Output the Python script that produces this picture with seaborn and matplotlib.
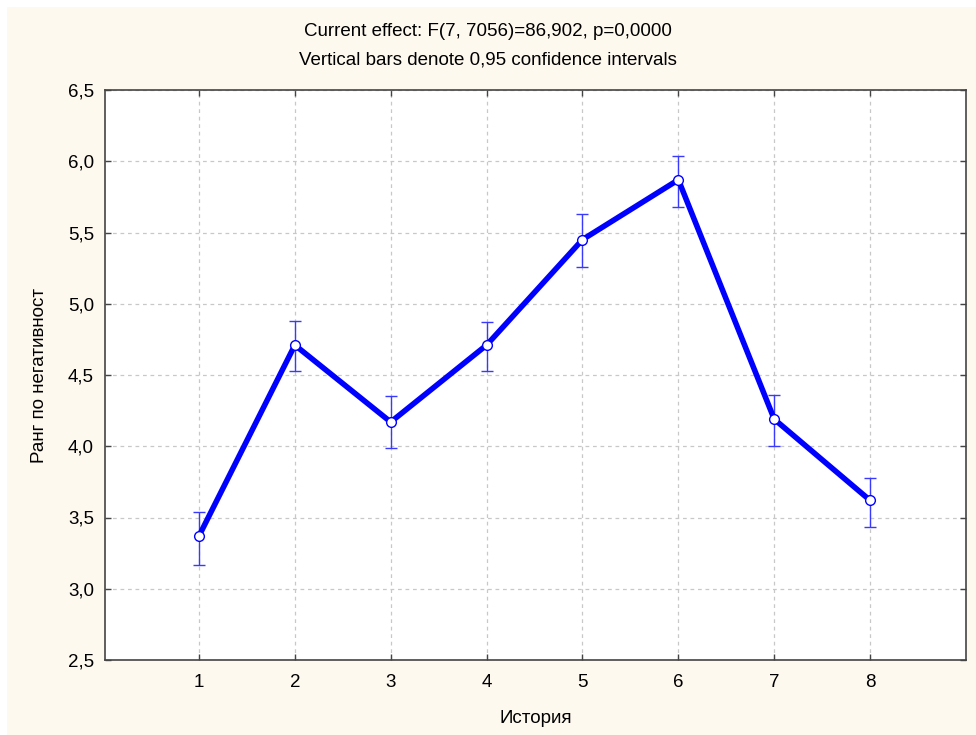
import matplotlib
matplotlib.use("Agg")
import matplotlib.pyplot as plt
from matplotlib.patches import Rectangle
import seaborn as sns
import pandas as pd

stories = [1, 2, 3, 4, 5, 6, 7, 8]
means = [3.37, 4.71, 4.17, 4.71, 5.45, 5.87, 4.19, 3.62]
ci_low = [3.17, 4.53, 3.99, 4.53, 5.26, 5.68, 4.00, 3.43]
ci_high = [3.54, 4.88, 4.35, 4.87, 5.63, 6.04, 4.36, 3.78]
y_ticks = [2.5, 3.0, 3.5, 4.0, 4.5, 5.0, 5.5, 6.0, 6.5]
y_tick_labels = ["2,5", "3,0", "3,5", "4,0", "4,5", "5,0", "5,5", "6,0", "6,5"]

sns.set_theme(style="white")
plt.rcParams["font.family"] = ["Liberation Sans", "DejaVu Sans"]

FS = 13.5
df = pd.DataFrame({"story": stories, "mean": means})

fig = plt.figure(figsize=(9.76, 7.35), dpi=100, facecolor="white")
cream = "#FEF9EF"
fig.patches.append(Rectangle((7 / 976, 0), 1 - 7 / 976, 1 - 7 / 735,
                             transform=fig.transFigure, facecolor=cream,
                             edgecolor="none", zorder=-10))
ax = fig.add_axes([105 / 976, 75 / 735, 861 / 976, 570 / 735])
ax.set_facecolor("white")

yerr = [[m - lo for m, lo in zip(means, ci_low)],
        [hi - m for m, hi in zip(means, ci_high)]]
ax.errorbar(stories, means, yerr=yerr, fmt="none", ecolor="#3a3aff",
            elinewidth=1.0, capsize=4.5, capthick=1.0, zorder=3)
sns.lineplot(data=df, x="story", y="mean", ax=ax, color="#0000ff",
             linewidth=4, marker="o", markersize=7,
             markerfacecolor="white", markeredgecolor="#0000ff",
             markeredgewidth=1.0, zorder=4)

ax.set_xlim(0.02, 9)
ax.set_ylim(2.5, 6.5)
ax.set_xticks(stories)
ax.set_xticklabels([str(s) for s in stories])
ax.set_yticks(y_ticks)
ax.set_yticklabels(y_tick_labels)
ax.grid(True, color="#c8c8c8", linestyle=(0, (3, 3)), linewidth=0.9)
for s in ax.spines.values():
    s.set_visible(True)
    s.set_color("#444444")
    s.set_linewidth(1.2)
ax.tick_params(axis="both", direction="in", length=4, width=1,
               color="#444444", labelsize=FS, labelcolor="black",
               top=True, right=True, left=True, bottom=True, pad=10)
ax.tick_params(axis="y", pad=8)

ax.set_xlabel("История", fontsize=FS, color="black", labelpad=14)
ax.set_ylabel("Ранг по негативност", fontsize=FS, color="black", labelpad=14)
fig.text(0.5, 1 - 32 / 735, "Current effect: F(7, 7056)=86,902, p=0,0000",
         ha="center", va="center", fontsize=FS, color="black")
fig.text(0.5, 1 - 60 / 735, "Vertical bars denote 0,95 confidence intervals",
         ha="center", va="center", fontsize=FS, color="black")

fig.savefig("out.png", dpi=100, facecolor=fig.get_facecolor())
